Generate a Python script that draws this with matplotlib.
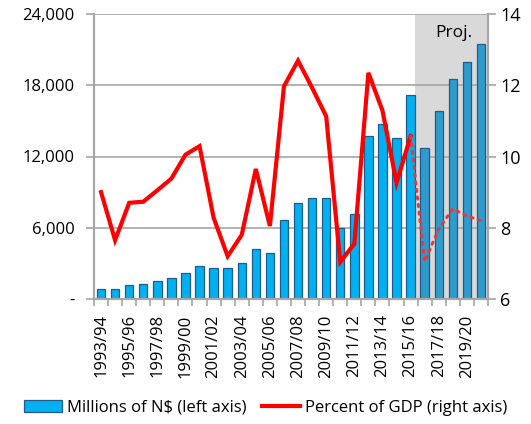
import matplotlib
matplotlib.use("Agg")
import matplotlib.pyplot as plt
from matplotlib.patches import Patch
from matplotlib.lines import Line2D
from matplotlib.ticker import FuncFormatter

years = ["1993/94", "1994/95", "1995/96", "1996/97", "1997/98", "1998/99", "1999/00",
         "2000/01", "2001/02", "2002/03", "2003/04", "2004/05", "2005/06", "2006/07",
         "2007/08", "2008/09", "2009/10", "2010/11", "2011/12", "2012/13", "2013/14",
         "2014/15", "2015/16", "2016/17", "2017/18", "2018/19", "2019/20", "2020/21"]
millions = [820, 820, 1180, 1290, 1520, 1770, 2220, 2800, 2580, 2580, 3030, 4210,
            3850, 6680, 8080, 8530, 8530, 5950, 7130, 13750, 14710, 13530, 17150,
            12720, 15860, 18550, 19960, 21470]
pct_hist = [9.0, 7.65, 8.7, 8.73, 9.05, 9.38, 10.05, 10.29, 8.28, 7.2, 7.8, 9.65,
            8.05, 11.97, 12.69, 11.93, 11.13, 7.04, 7.55, 12.35, 11.29, 9.26, 10.57]
pct_proj = [10.57, 7.05, 7.97, 8.53, 8.33, 8.2]
n_hist_bars = 23

plt.rcParams['font.family'] = ['Open Sans', 'DejaVu Sans']
fig = plt.figure(figsize=(5.31, 4.24), dpi=100)
ax = fig.add_axes([94/531, 1-299/424, (488-94)/531, (299-14)/424])
ax2 = ax.twinx()

x = list(range(len(years)))
grid_c = '#A6A6A6'

# projection shading
ax.axvspan(n_hist_bars - 0.7, len(years) - 0.5, color='#D9D9D9', zorder=0, lw=0)

for v in [6000, 12000, 18000, 24000]:
    ax.axhline(v, color=grid_c, lw=1.2, zorder=1)

colors = ['#00B0F0'] * n_hist_bars + ['#2E9BCC'] * (len(years) - n_hist_bars)
ax.bar(x, millions, width=0.6, color=colors, edgecolor='#1F5C8C', linewidth=0.9, zorder=2)

ax.set_xlim(-0.5, len(years) - 0.5)
ax.set_ylim(0, 24000)
ax.set_yticks([0, 6000, 12000, 18000, 24000])
ax.yaxis.set_major_formatter(FuncFormatter(lambda v, p: '-' if v == 0 else f'{int(v):,}'))
ax.set_xticks([i - 0.5 for i in range(len(years) + 1)], minor=False)
ax.set_xticklabels([])
ax.set_xticks(x, minor=True)
ax.set_xticklabels([y if i % 2 == 0 else '' for i, y in enumerate(years)], minor=True,
                   rotation=90, fontsize=12)
ax.tick_params(axis='x', which='minor', length=0, pad=11)
ax.tick_params(axis='x', which='major', length=5, color=grid_c, width=1.2)
ax.tick_params(axis='y', length=6, color=grid_c, width=1.2, labelsize=12, pad=8)

for s in ['top']:
    ax.spines[s].set_visible(False)
    ax2.spines[s].set_visible(False)
for s in ['left', 'bottom', 'right']:
    ax.spines[s].set_color(grid_c)
    ax.spines[s].set_linewidth(1.5)
    ax2.spines[s].set_color(grid_c)
    ax2.spines[s].set_linewidth(1.5)

ax2.plot(x[:len(pct_hist)], pct_hist, color='#FF0000', lw=3, zorder=5,
         solid_joinstyle='miter')
ax2.plot(x[n_hist_bars - 1:], pct_proj, color='#E8383D', lw=2.2, linestyle=(0, (0.7, 1.8)),
         dash_capstyle='round', zorder=5)
ax2.set_ylim(6, 14)
ax2.set_yticks([6, 8, 10, 12, 14])
ax2.tick_params(axis='y', length=6, color=grid_c, width=1.2, labelsize=13, pad=3)

ax.text(25.1, 22400, 'Proj.', fontsize=12.5, ha='center', va='center', zorder=6)

handles = [Patch(facecolor='#00B0F0', edgecolor='#1F5C8C', linewidth=0.9),
           Line2D([0], [0], color='#FF0000', lw=3)]
fig.legend(handles, ['Millions of N$ (left axis)', 'Percent of GDP (right axis)'],
           loc='center', bbox_to_anchor=(0.5, 1 - 408/424), ncol=2, frameon=False,
           fontsize=12, handlelength=2.3, handletextpad=0.3, columnspacing=0.9,
           borderaxespad=0)

fig.savefig('out.png', dpi=100)
